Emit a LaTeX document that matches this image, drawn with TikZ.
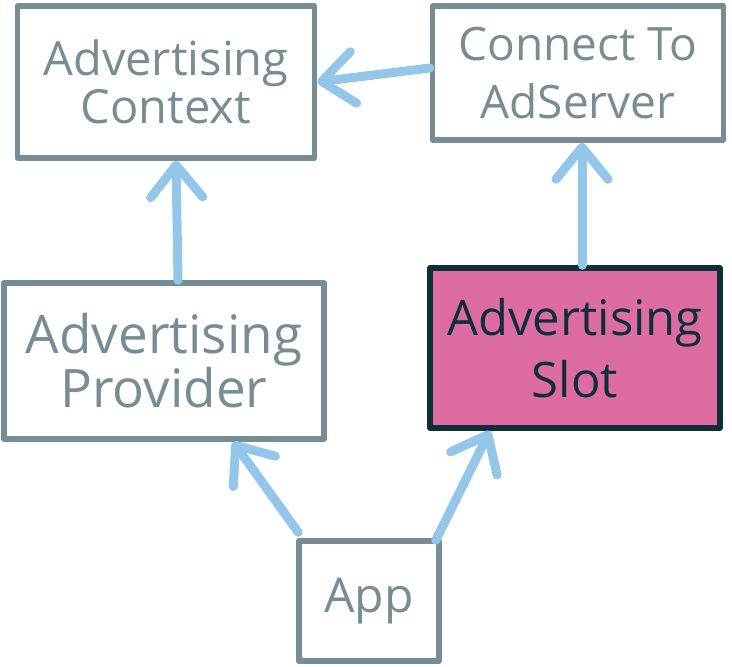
\documentclass[tikz,border=0pt]{standalone}
\usepackage{fontspec}
\setmainfont{Open Sans}
\usetikzlibrary{arrows.meta}
\definecolor{boxgray}{RGB}{118,141,147}
\definecolor{arrowblue}{RGB}{148,198,233}
\definecolor{slotpink}{RGB}{221,108,163}
\definecolor{slotdark}{RGB}{16,46,56}
\tikzset{
  sketchbox/.style={draw=boxgray, line width=5.5pt, line join=round, rectangle,
    text=boxgray, align=center, inner sep=0pt},
  slotbox/.style={sketchbox, draw=slotdark, fill=slotpink, text=slotdark},
  link/.style={draw=arrowblue, line width=9pt, line cap=round,
    -{Straight Barb[length=32pt,width=52pt,round]}},
}
\begin{document}
\begin{tikzpicture}[x=1pt,y=-1pt]
\useasboundingbox (0,0) rectangle (732,667);
\node[sketchbox, minimum width=297pt, minimum height=152pt,
  font=\fontsize{47}{48}\selectfont] (ctx) at (166,82) {Advertising\\Context};
\node[sketchbox, minimum width=291pt, minimum height=134pt,
  font=\fontsize{46}{58}\selectfont] (conn) at (578,73) {Connect To\\AdServer};
\node[sketchbox, minimum width=320pt, minimum height=156pt,
  font=\fontsize{53}{52}\selectfont] (prov) at (164,361) {Advertising\\Provider};
\node[slotbox, minimum width=290pt, minimum height=160pt,
  font=\fontsize{49}{62}\selectfont] (slot) at (575,348) {Advertising\\Slot};
\node[sketchbox, minimum width=140pt, minimum height=120pt,
  font=\fontsize{48}{48}\selectfont] (app) at (369,601) {App};
\draw[link] ([yshift=5]conn.west) -- (ctx.east);
\draw[link] ([xshift=14]prov.north) -- ([xshift=10]ctx.south);
\draw[link] ([xshift=7]slot.north) -- ([xshift=4]conn.south);
\draw[link] ([xshift=2,yshift=6]app.north west) -- ([xshift=69]prov.south);
\draw[link] ([xshift=-6,yshift=-2]app.north east) -- ([xshift=-85]slot.south);
\end{tikzpicture}
\end{document}
